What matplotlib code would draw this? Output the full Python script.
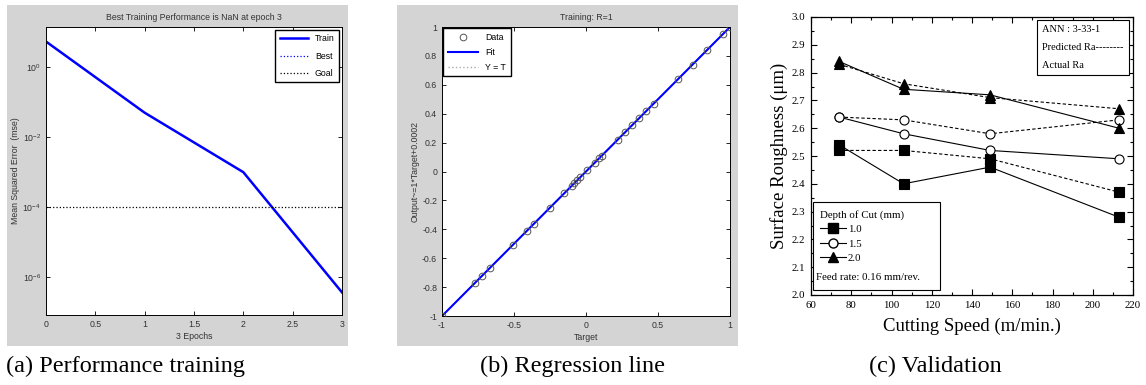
import numpy as np
import matplotlib
matplotlib.use("Agg")
import matplotlib.pyplot as plt
from matplotlib.lines import Line2D
from matplotlib.patches import Rectangle

# (a) training performance
epochs = [0, 1, 2, 3]
train_mse = [5.3, 0.049, 0.00098, 3.6e-7]
goal_mse = 1e-4

# (b) regression: targets and network outputs
targets = [-1.0, -0.77, -0.72, -0.67, -0.51, -0.41, -0.36, -0.25, -0.15, -0.10,
           -0.08, -0.06, -0.04, 0.01, 0.06, 0.09, 0.11, 0.22, 0.27, 0.32,
           0.37, 0.42, 0.47, 0.64, 0.74, 0.84, 0.95, 1.0]
outputs = list(targets)

# (c) validation
speed = [74, 106, 149, 213]
depths = ["1.0", "1.5", "2.0"]
actual_ra = {"1.0": [2.54, 2.40, 2.46, 2.28],
             "1.5": [2.64, 2.58, 2.52, 2.49],
             "2.0": [2.84, 2.74, 2.72, 2.60]}
predicted_ra = {"1.0": [2.52, 2.52, 2.49, 2.37],
                "1.5": [2.64, 2.63, 2.58, 2.63],
                "2.0": [2.83, 2.76, 2.71, 2.67]}
markers = {"1.0": "s", "1.5": "o", "2.0": "^"}
captions = ["(a) Performance training", "(b) Regression line", "(c) Validation"]

W, H = 1146, 385
fig = plt.figure(figsize=(W / 100, H / 100), dpi=100)
fig.patch.set_facecolor("white")


def px_axes(l, t, r, b):
    return fig.add_axes([l / W, 1 - b / H, (r - l) / W, (b - t) / H])


# gray matlab window backgrounds
gray = "#d4d4d4"
for l, r in [(7, 348), (397, 738)]:
    fig.patches.append(Rectangle((l / W, 1 - 346 / H), (r - l) / W, 341 / H,
                                 transform=fig.transFigure, facecolor=gray,
                                 edgecolor="none", zorder=-10))

sans = "Liberation Sans"
txt = "#333333"
small = 6.3

# ---- (a)
ax = px_axes(46, 27, 342, 315)
ax.semilogy(epochs, train_mse, color="blue", lw=1.8, label="Train")
ax.plot([], [], color="blue", ls=":", lw=0.9, label="Best")
ax.axhline(goal_mse, color="black", ls=":", lw=0.9, label="Goal")
ax.set_xlim(0, 3)
ax.set_ylim(10 ** -7.09, 10 ** 1.14)
ax.set_yticks([1, 1e-2, 1e-4, 1e-6])
ax.minorticks_off()
ax.set_xticks([0, 0.5, 1, 1.5, 2, 2.5, 3])
ax.set_xticklabels(["0", "0.5", "1", "1.5", "2", "2.5", "3"])
ax.tick_params(direction="in", top=True, right=True, labelsize=small,
               labelcolor=txt, length=3, width=0.6)
ax.set_title("Best Training Performance is NaN at epoch 3", fontsize=small,
             family=sans, color=txt, pad=5)
ax.set_ylabel("Mean Squared Error  (mse)", fontsize=small, family=sans, color=txt, labelpad=2)
ax.set_xlabel("3 Epochs", fontsize=small, family=sans, color=txt, labelpad=2)
for lab in ax.get_xticklabels() + ax.get_yticklabels():
    lab.set_family(sans)
ax.legend(loc="upper right", prop={"family": sans, "size": small},
          fancybox=False, edgecolor="black", framealpha=1, handlelength=3.2,
          borderpad=0.5, labelspacing=0.95, borderaxespad=0.35)
for s in ax.spines.values():
    s.set_linewidth(0.7)

# ---- (b)
ax = px_axes(442, 27, 730, 316)
ax.plot(targets, outputs, ls="none", marker="o", ms=4.8, mfc="none", mec="#555555",
        mew=0.7, label="Data", zorder=3)
ax.plot([-1, 1], [-1, 1], color="blue", lw=1.5, label="Fit", zorder=2)
ax.plot([-1, 1], [-1, 1], color="#aaaaaa", ls=":", lw=1, label="Y = T", zorder=1)
ax.set_xlim(-1, 1)
ax.set_ylim(-1, 1)
ax.set_xticks([-1, -0.5, 0, 0.5, 1])
ax.set_xticklabels(["-1", "-0.5", "0", "0.5", "1"])
ax.set_yticks(np.arange(-1, 1.01, 0.2))
ax.set_yticklabels(["-1", "-0.8", "-0.6", "-0.4", "-0.2", "0", "0.2", "0.4", "0.6", "0.8", "1"])
ax.tick_params(direction="in", top=True, right=True, labelsize=small,
               labelcolor=txt, length=3, width=0.6)
ax.set_title("Training: R=1", fontsize=small, family=sans, color=txt, pad=5)
ax.set_ylabel("Output~=1*Target+0.0002", fontsize=small, family=sans, color=txt, labelpad=2)
ax.set_xlabel("Target", fontsize=small, family=sans, color=txt, labelpad=2)
for lab in ax.get_xticklabels() + ax.get_yticklabels():
    lab.set_family(sans)
ax.legend(loc="upper left", prop={"family": sans, "size": small},
          fancybox=False, edgecolor="black", framealpha=1, handlelength=3.5,
          borderpad=0.5, labelspacing=0.7, borderaxespad=0.15)
for s in ax.spines.values():
    s.set_linewidth(0.7)

# ---- (c)
serif = "Liberation Serif"
ax = px_axes(811, 17, 1133, 295)
for d in depths:
    ax.plot(speed, actual_ra[d], color="black", lw=0.8, ls="-", marker=markers[d],
            ms=6.5, mfc="white" if d == "1.5" else "black", mec="black", mew=0.8)
    ax.plot(speed, predicted_ra[d], color="black", lw=0.8, ls=(0, (3, 2)), marker=markers[d],
            ms=6.5, mfc="white" if d == "1.5" else "black", mec="black", mew=0.8)
ax.set_xlim(60, 220)
ax.set_ylim(2.0, 3.0)
ax.set_xticks(np.arange(60, 221, 20))
ax.set_xticks(np.arange(60, 221, 10), minor=True)
ax.set_yticks(np.arange(2.0, 3.01, 0.1))
ax.set_yticks(np.arange(2.0, 3.01, 0.05), minor=True)
ax.yaxis.set_major_formatter(matplotlib.ticker.FormatStrFormatter("%.1f"))
ax.tick_params(which="both", direction="in", top=True, right=True, width=0.8)
ax.tick_params(which="major", length=4, labelsize=7.8, pad=4)
ax.tick_params(which="minor", length=2)
for lab in ax.get_xticklabels() + ax.get_yticklabels():
    lab.set_family(serif)
ax.set_xlabel("Cutting Speed (m/min.)", fontsize=13.5, family=serif, labelpad=6)
ax.set_ylabel("Surface Roughness (\u03bcm)", fontsize=13.5, family=serif, labelpad=3)
for s in ax.spines.values():
    s.set_linewidth(0.9)

# top-right info box
info_handles = [Line2D([], [], ls="none")] * 3
leg1 = ax.legend(info_handles, ["ANN : 3-33-1", "Predicted Ra--------", "Actual Ra"],
                 loc="upper right", bbox_to_anchor=(0.988, 0.99), handlelength=0,
                 handletextpad=0, prop={"family": serif, "size": 7.5},
                 fancybox=False, edgecolor="black", framealpha=1,
                 borderpad=0.5, labelspacing=0.8, borderaxespad=0)
leg1.get_frame().set_linewidth(0.8)
ax.add_artist(leg1)

# bottom-left depth box
ax.add_patch(Rectangle((0.006, 0.018), 0.394, 0.317, transform=ax.transAxes,
                       facecolor="white", edgecolor="black", lw=0.8, zorder=4))
depth_handles = [Line2D([], [], color="black", lw=0.8, marker=markers[d], ms=6.5,
                        mfc="white" if d == "1.5" else "black", mec="black")
                 for d in depths]
leg2 = ax.legend(depth_handles, depths, title="Depth of Cut (mm)", loc="upper left",
                 bbox_to_anchor=(0.0, 0.338), frameon=False, handlelength=2.4,
                 handletextpad=0.2, prop={"family": serif, "size": 7.8},
                 title_fontproperties={"family": serif, "size": 7.8},
                 alignment="left", labelspacing=0.45, borderpad=0.3)
leg2.set_zorder(5)
ax.text(0.017, 0.062, "Feed rate: 0.16 mm/rev.", transform=ax.transAxes,
        family=serif, fontsize=7.8, va="center", ha="left", zorder=6)

# captions
for cx, cap in zip([125, 572, 935], captions):
    fig.text(cx / W, 1 - 366 / H, cap, ha="center", va="center",
             family=serif, fontsize=17.5)

fig.savefig("out.png", dpi=100)
